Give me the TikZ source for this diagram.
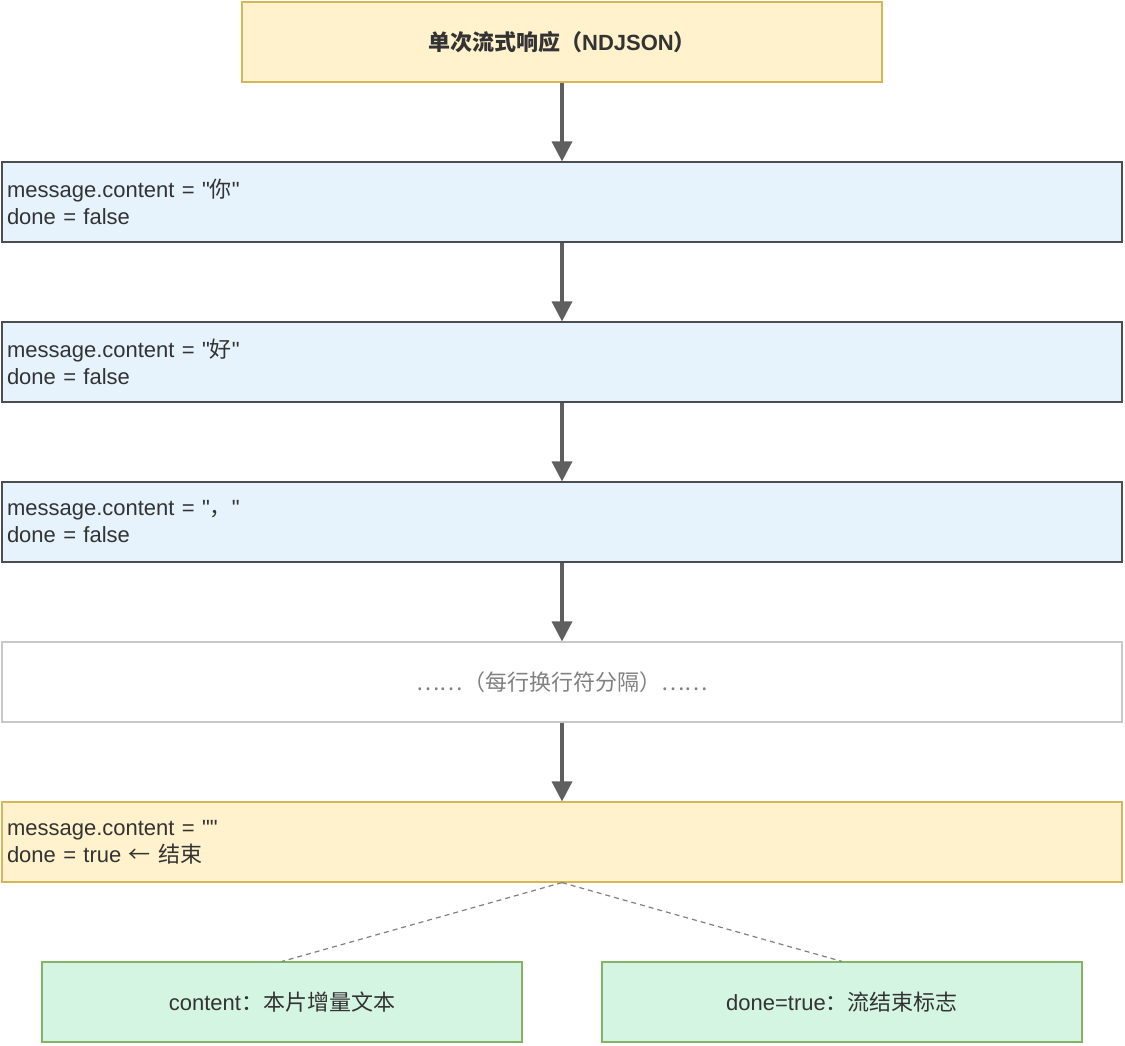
\documentclass[tikz,border=0pt]{standalone}
\usepackage{fontspec}
\setmainfont{Liberation Sans}[Ligatures=TeXOff]
\newfontfamily\cjk{Noto Sans CJK SC}
\usetikzlibrary{positioning,arrows.meta}
\definecolor{hdrfill}{HTML}{FFF2CC}
\definecolor{hdrline}{HTML}{D6B656}
\definecolor{msgfill}{HTML}{E6F3FD}
\definecolor{msgline}{HTML}{4D4D4D}
\definecolor{sepline}{HTML}{C8C8C8}
\definecolor{notefill}{HTML}{D5F5E3}
\definecolor{noteline}{HTML}{82B366}
\definecolor{arrowgray}{HTML}{5F5F5F}
\definecolor{txtgray}{HTML}{333333}
\tikzset{
  box/.style={draw, line width=1.2pt, minimum height=80pt, inner sep=5pt, font=\fontsize{22}{27}\selectfont, text=txtgray},
  hdr/.style={box, fill=hdrfill, draw=hdrline, minimum width=640pt, font=\fontsize{22}{27}\selectfont\bfseries},
  msg/.style={box, fill=msgfill, draw=msgline, minimum width=1120pt, text width=1110pt, align=left},
  sep/.style={box, fill=white, draw=sepline, minimum width=1120pt, text=gray},
  last/.style={msg, fill=hdrfill, draw=hdrline},
  note/.style={box, fill=notefill, draw=noteline, minimum width=480pt},
  flow/.style={draw=arrowgray, line width=3.5pt, -{Triangle[length=20pt,width=20pt]}, shorten >=0pt},
  link/.style={draw=gray, line width=1.2pt, dash pattern=on 5pt off 4pt}
}
\begin{document}
\begin{tikzpicture}[x=1pt,y=1pt,yscale=-1]
\useasboundingbox (0,0) rectangle (1125,1045);

% header and messages
\node[hdr] (head) at (562,42) {{\cjk 单次流式响应（}NDJSON{\cjk ）}};
\node[msg] (m1) at (562,202) {message.content = "{\cjk 你}"\\done = false};
\node[msg] (m2) at (562,362) {message.content = "{\cjk 好}"\\done = false};
\node[msg] (m3) at (562,522) {message.content = "{\cjk ，}"\\done = false};
\node[sep] (gap) at (562,682) {{\cjk ……（每行换行符分隔）……}};
\node[last] (end) at (562,842) {message.content = ""\\done = true {\cjk ← 结束}};

% notes
\node[note] (cnt) at (282,1002) {content{\cjk ：本片增量文本}};
\node[note] (dne) at (842,1002) {done=true{\cjk ：流结束标志}};

% arrows
\foreach \a/\b in {head/m1, m1/m2, m2/m3, m3/gap, gap/end}
  \draw[flow] (\a.south) -- (\b.north);
\draw[link] (end.south) -- (cnt.north);
\draw[link] (end.south) -- (dne.north);
\end{tikzpicture}
\end{document}
